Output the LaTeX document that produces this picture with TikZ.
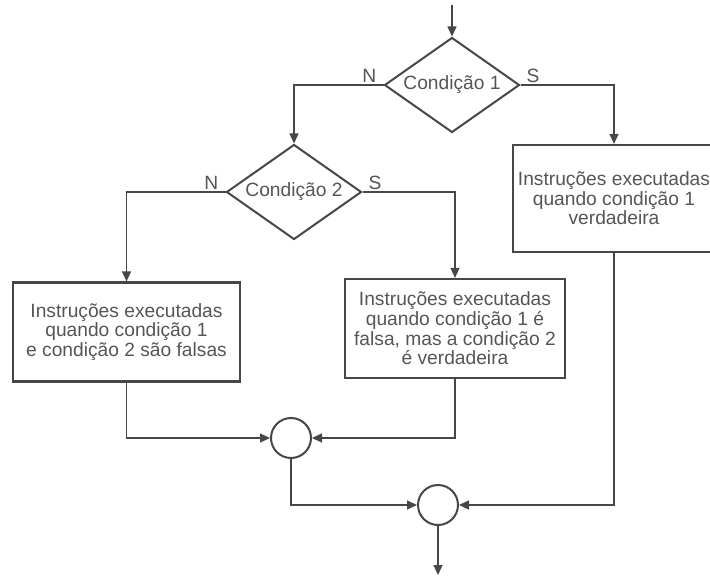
\documentclass[tikz,border=0pt]{standalone}
\usepackage{fontspec}
\setmainfont{Liberation Sans}
\usepackage{xcolor}
\usetikzlibrary{shapes.geometric,arrows.meta,positioning}
\definecolor{cLine}{HTML}{474747}
\definecolor{cText}{HTML}{555555}
\newcommand{\flfont}{\fontsize{19.2}{19.6}\selectfont}
\tikzset{
  instr/.style ={rectangle, draw=cLine, line width=2.2pt, align=center,
                 text=cText, font=\flfont, inner sep=0pt},
  cond/.style  ={diamond, aspect=1.42, draw=cLine, line width=2pt, text=cText,
                 font=\flfont, inner sep=0pt, minimum width=135pt, minimum height=95pt},
  junc/.style  ={circle, draw=cLine, line width=2pt, minimum size=40pt, inner sep=0pt},
  fl/.style    ={-{Triangle[length=10pt,width=9pt]}, draw=cLine, line width=1.3pt},
  lbl/.style   ={font=\flfont, text=cText, inner sep=0pt},
}
\begin{document}
\begin{tikzpicture}[x=1pt,y=-1pt]
  \useasboundingbox (0,0) rectangle (710,577);
  \node[cond] (c1) at (452,85) {Condição 1};
  \node[cond] (c2) at (294,192) {Condição 2};
  \node[instr,minimum width=202pt,minimum height=107pt] (iv) at (614,198.5)
    {Instruções executadas\\quando condição 1\\verdadeira};
  \node[instr,minimum width=227pt,minimum height=99pt] (iff) at (126.5,332)
    {Instruções executadas\\quando condição 1\\e condição 2 são falsas};
  \node[instr,minimum width=220pt,minimum height=99pt] (ifv) at (455,328.5)
    {Instruções executadas\\quando condição 1 é\\falsa, mas a condição 2\\é verdadeira};
  \node[junc] (j1) at (291,438) {};
  \node[junc] (j2) at (438,505) {};
  \coordinate (in) at (452,5);
  \coordinate (out) at (438,575);
  \node[lbl,above left=2pt and 7pt of c1.west] (n1) {N};
  \node[lbl,above right=2pt and 6pt of c1.east] (s1) {S};
  \node[lbl,above left=2pt and 7pt of c2.west] (n2) {N};
  \node[lbl,above right=2pt and 6pt of c2.east] (s2) {S};
  \draw[fl](in)--(c1);
  \draw[fl](c1.west)-|(c2.north);\draw[fl](c1.east)-|(iv.north);
  \draw[fl](c2.west)-|(iff.north);\draw[fl](c2.east)-|(ifv.north);
  \draw[fl](iff.south)|-(j1.west);\draw[fl](ifv.south)|-(j1.east);
  \draw[fl](j1.south)|-(j2.west);\draw[fl](iv.south)|-(j2.east);
  \draw[fl](j2.south)--(out);
\end{tikzpicture}
\end{document}
